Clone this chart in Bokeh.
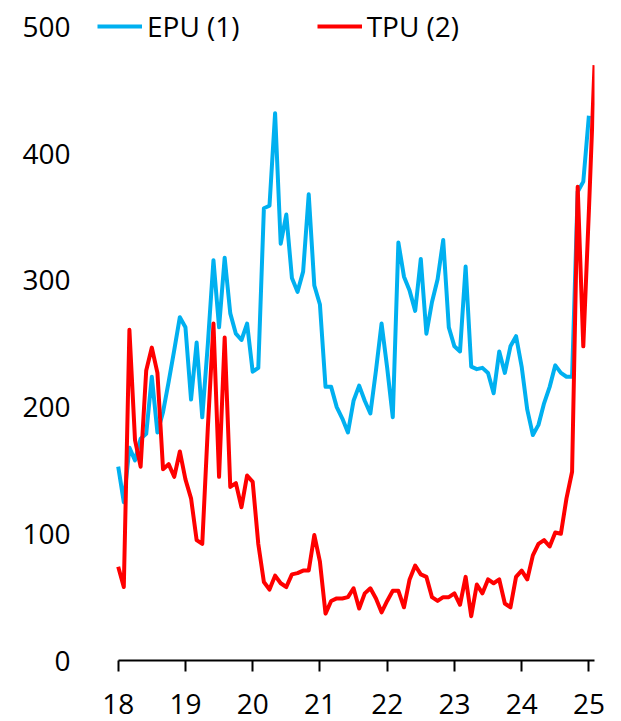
import pandas as pd
from bokeh.plotting import figure
from bokeh.models import ColumnDataSource, FixedTicker, Legend, LegendItem, Range1d
from bokeh.embed import file_html
from bokeh.resources import INLINE

# Monthly index values, Jan 2018 onward
epu = [153, 125, 168, 158, 175, 179, 224, 180, 196, 220, 245, 271,
       263, 206, 251, 192, 250, 316, 263, 318, 274, 258, 253, 266,
       228, 231, 357, 359, 432, 329, 352, 302, 291, 307, 368, 296,
       281, 216, 216, 200, 191, 180, 205, 217, 205, 195, 229, 266,
       231, 192, 330, 303, 292, 276, 317, 258, 283, 301, 332, 263,
       248, 244, 311, 232, 230, 231, 227, 211, 244, 227, 248, 256,
       232, 198, 178, 186, 203, 216, 233, 227, 224, 224, 370, 378,
       430]
tpu = [74, 58, 261, 174, 153, 229, 247, 227, 151, 155, 145, 165,
       143, 128, 95, 92, 184, 266, 145, 255, 137, 140, 121, 146,
       141, 92, 62, 56, 67, 61, 58, 68, 69, 71, 71, 99,
       78, 37, 47, 49, 49, 50, 57, 41, 53, 57, 49, 38,
       47, 55, 55, 42, 64, 75, 68, 66, 50, 47, 50, 50,
       53, 44, 66, 35, 60, 53, 64, 61, 64, 45, 42, 66,
       71, 64, 83, 92, 95, 90, 101, 100, 128, 149, 374, 248,
       355, 470]
year_ticks = [18, 19, 20, 21, 22, 23, 24, 25]
y_ticks = [0, 100, 200, 300, 400, 500]
series_names = ["EPU (1)", "TPU (2)"]

def year_frac(n):
    d = pd.date_range("2018-01-01", periods=n, freq="MS")
    return [(dt.year - 2000) + (dt.month - 1) / 12 for dt in d]

src_e = ColumnDataSource(dict(x=year_frac(len(epu)), y=epu))
src_t = ColumnDataSource(dict(x=year_frac(len(tpu)), y=tpu))

X_END = 18 + 85 / 12
FONT = "Open Sans"
p = figure(width=620, height=720, output_backend="svg", toolbar_location=None,
           x_range=Range1d(17.588, X_END), y_range=Range1d(0, 521),
           min_border_left=90, min_border_right=26, min_border_top=0,
           min_border_bottom=60)
p.outline_line_color = None
p.xgrid.grid_line_color = None
p.ygrid.grid_line_color = None

r1 = p.line("x", "y", source=src_e, line_color="#00B0F0", line_width=4,
            line_join="round")
r2 = p.line("x", "y", source=src_t, line_color="#FF0000", line_width=4,
            line_join="round")

p.xaxis.ticker = FixedTicker(ticks=year_ticks)
p.xaxis.bounds = (18, X_END)
p.xaxis.axis_line_color = "black"
p.xaxis.axis_line_width = 2
p.xaxis.major_tick_line_color = "black"
p.xaxis.major_tick_line_width = 2
p.xaxis.major_tick_out = 11
p.xaxis.major_tick_in = 0
p.xaxis.minor_tick_line_color = None
p.xaxis.major_label_standoff = 22
p.xaxis.major_label_text_font = FONT
p.xaxis.major_label_text_font_size = "28px"
p.xaxis.major_label_text_color = "black"

p.yaxis.ticker = FixedTicker(ticks=y_ticks)
p.yaxis.axis_line_color = None
p.yaxis.major_tick_line_color = None
p.yaxis.minor_tick_line_color = None
p.yaxis.major_tick_out = 0
p.yaxis.major_label_standoff = 20
p.yaxis.major_label_text_font = FONT
p.yaxis.major_label_text_font_size = "28px"
p.yaxis.major_label_text_color = "black"

legend = Legend(items=[LegendItem(label=series_names[0], renderers=[r1]),
                       LegendItem(label=series_names[1], renderers=[r2])],
                orientation="horizontal", location=(7, 615),
                glyph_width=45, glyph_height=20, label_standoff=5, spacing=77,
                padding=0, margin=0, border_line_color=None,
                background_fill_alpha=0, label_text_font=FONT,
                label_text_font_size="28px", label_text_color="black")
p.add_layout(legend, "center")

open("out.html", "w").write(file_html(p, INLINE))
